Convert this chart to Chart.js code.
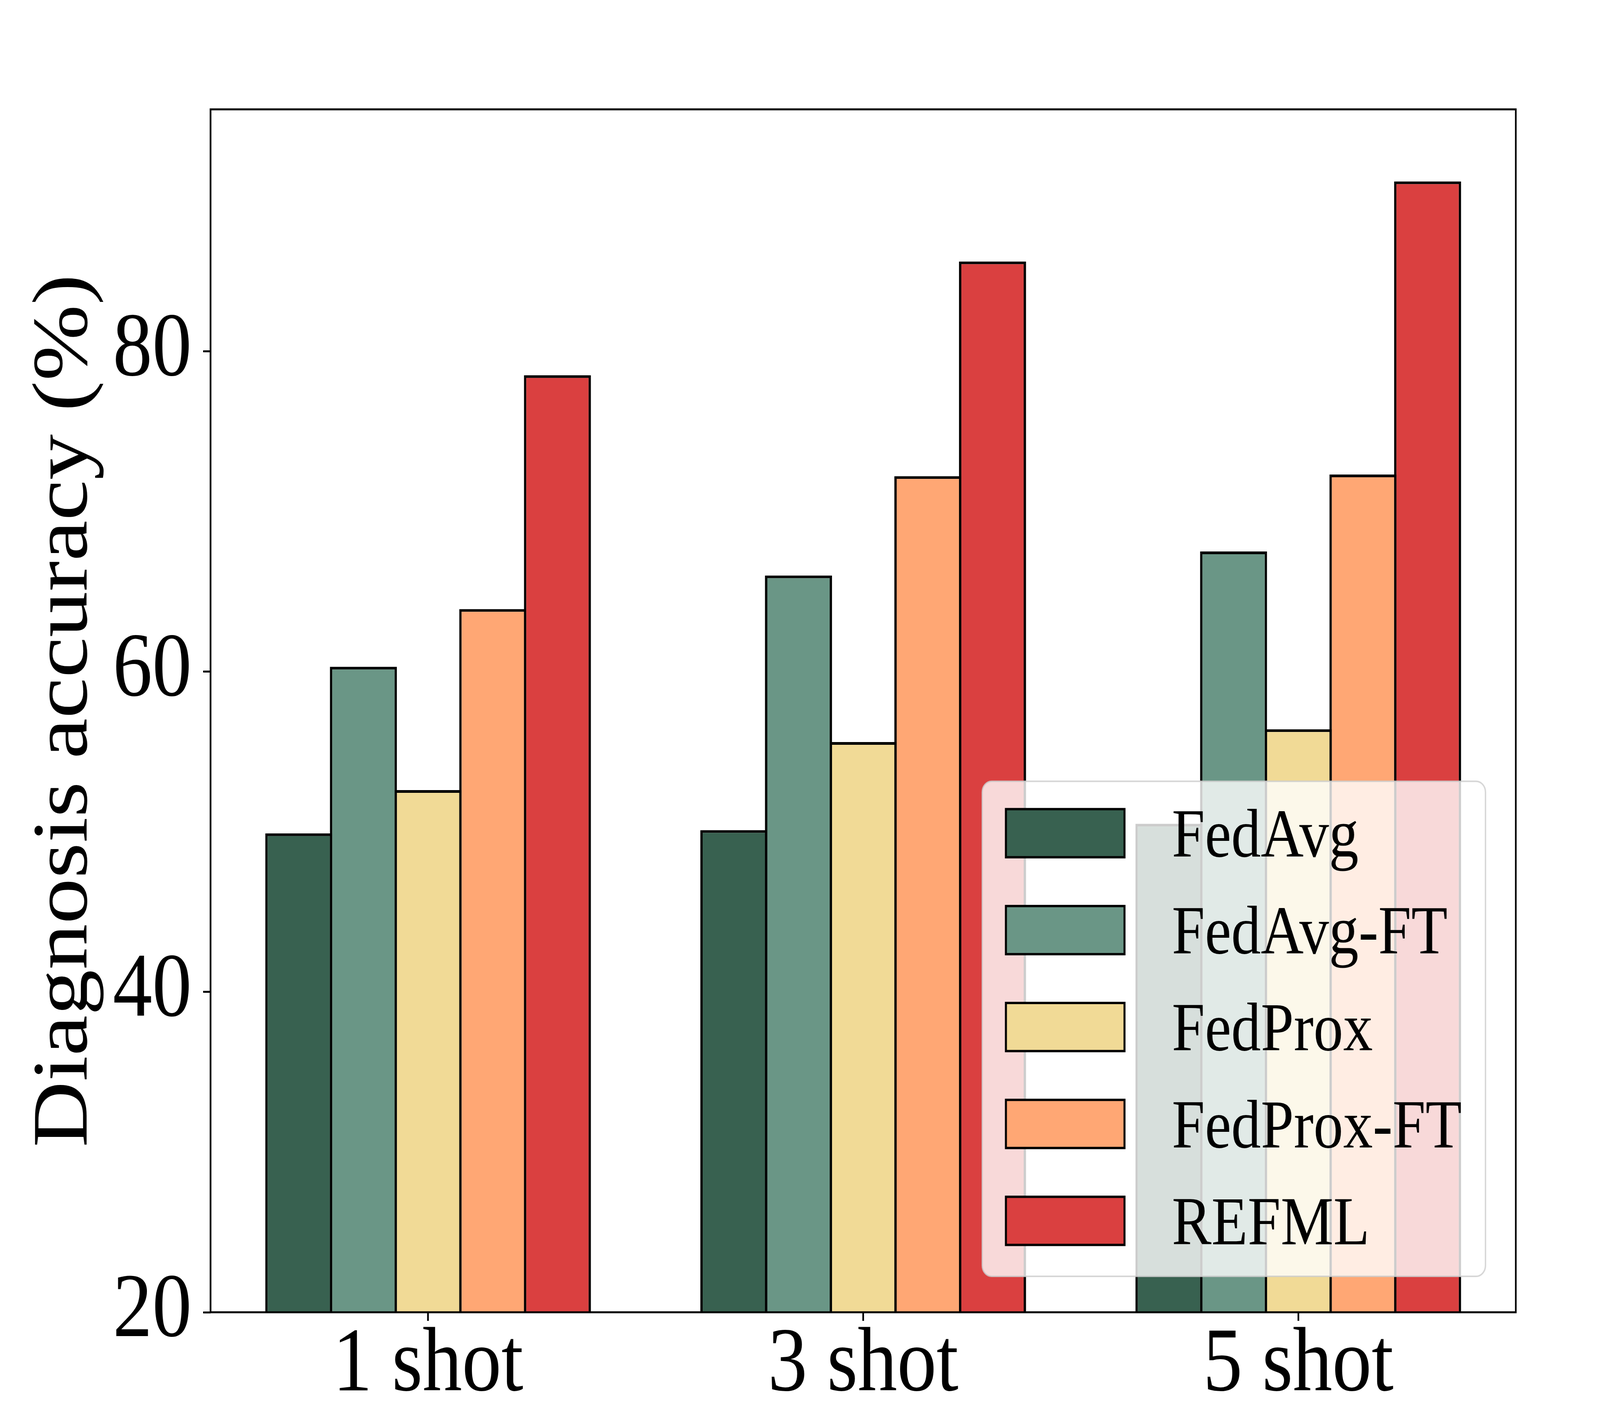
<!DOCTYPE html>
<html>
<head>
<meta charset="utf-8">
<title>Diagnosis accuracy</title>
<script src="https://cdn.jsdelivr.net/npm/chart.js@4.4.1/dist/chart.umd.min.js"></script>
<style>
  html, body { margin: 0; padding: 0; background: #fff; overflow: hidden; }
</style>
</head>
<body>
<!-- drawn at 4750x3600, shown at whatever the window gives -->
<canvas id="accchart" width="4750" height="3600" style="display:block;width:100vw;height:100vh"></canvas>
<script>
// values
const shot_labels = ["1 shot", "3 shot", "5 shot"];
const method_names = ["FedAvg", "FedAvg-FT", "FedProx", "FedProx-FT", "REFML"];
const fedavg_acc = [49.9, 50.1, 50.5];
const fedavg_ft_acc = [60.3, 66.0, 67.5];
const fedprox_acc = [52.6, 55.6, 56.4];
const fedprox_ft_acc = [63.9, 72.2, 72.3];
const refml_acc = [78.5, 85.6, 90.6];
const y_ticks = [20, 40, 60, 80];
const bar_colors = ["#386150", "#6A9686", "#F1DA96", "#FFA774", "#DA4040"];

const series_list = [fedavg_acc, fedavg_ft_acc, fedprox_acc, fedprox_ft_acc, refml_acc];
const serif = "'Liberation Serif', 'Times New Roman', serif";

//frame round the plot + matplotlib style legend (lower right)
const boxlegend = {
    id: "boxlegend",
    afterDatasetsDraw(chart) {
        const ctx = chart.ctx;
        const area = chart.chartArea;
        ctx.save();
        ctx.strokeStyle = "#000";
        ctx.lineWidth = 5;
        ctx.strokeRect(area.left, area.top, area.right - area.left, area.bottom - area.top);

        const fs = 176;
        ctx.font = fs + "px " + serif;
        const pad = 0.4 * fs, handlew = 2 * fs, handleh = 0.7 * fs, textpad = 0.8 * fs, rowh = 1.41 * fs;
        const sets = chart.data.datasets;
        const textw = Math.max(...sets.map(d => ctx.measureText(d.label).width));
        const boxw = pad * 2 + handlew + textpad + textw;
        const boxh = 0.755 * fs + (sets.length - 1) * rowh + 0.807 * fs;
        const boxr = area.right - 90, boxb = area.bottom - 92;
        const boxl = boxr - boxw, boxt = boxb - boxh;

        ctx.beginPath();
        ctx.roundRect(boxl, boxt, boxw, boxh, 28);
        ctx.fillStyle = "rgba(255,255,255,0.8)";
        ctx.fill();
        ctx.lineWidth = 4;
        ctx.strokeStyle = "rgba(204,204,204,0.8)";
        ctx.stroke();

        sets.forEach((d, i) => {
            const cy = boxt + 0.755 * fs + i * rowh;
            ctx.fillStyle = d.backgroundColor;
            ctx.fillRect(boxl + pad, cy - handleh / 2, handlew, handleh);
            ctx.lineWidth = 6;
            ctx.strokeStyle = "#000";
            ctx.strokeRect(boxl + pad, cy - handleh / 2, handlew, handleh);
            ctx.fillStyle = "#000";
            ctx.textAlign = "left";
            ctx.textBaseline = "alphabetic";
            ctx.fillText(d.label, boxl + pad + handlew + textpad, cy + 0.34 * fs);
        });
        ctx.restore();
    }
};

const generategroupedbars = (canvasid) => {
    const ctx = document.getElementById(canvasid);
    new Chart(ctx, {
        type: "bar",
        data: {
            labels: shot_labels,
            datasets: method_names.map((name, i) => ({
                label: name,
                data: series_list[i],
                backgroundColor: bar_colors[i],
                borderColor: "#000",
                borderWidth: 7,
                borderSkipped: false,
                barPercentage: 1.036,   // overlap the borders like matplotlib edges
                categoryPercentage: 0.7432
            }))
        },
        options: {
            responsive: false,
            animation: false,
            devicePixelRatio: 1,
            layout: {
                padding: { top: 280, right: 250, bottom: 0, left: 0 }
            },
            scales: {
                x: {
                    border: { display: false },
                    grid: {
                        offset: false,
                        drawOnChartArea: false,
                        drawTicks: true,
                        tickLength: 22,
                        tickWidth: 5,
                        tickColor: "#000"
                    },
                    ticks: {
                        color: "#000",
                        padding: 0,
                        maxRotation: 0,
                        font: { family: serif, size: 234, lineHeight: 1.0 }
                    },
                    afterFit: (scale) => { scale.height = 240; }
                },
                y: {
                    min: 20,
                    max: 95.1,
                    border: { display: false },
                    grid: {
                        drawOnChartArea: false,
                        drawTicks: true,
                        tickLength: 22,
                        tickWidth: 5,
                        tickColor: "#000"
                    },
                    ticks: {
                        color: "#000",
                        padding: 34,
                        font: { family: serif, size: 234 }
                    },
                    afterBuildTicks: (axis) => { axis.ticks = y_ticks.map(v => ({ value: v })); },
                    title: {
                        display: true,
                        text: "Diagnosis accuracy (%)",
                        color: "#000",
                        padding: { top: 55, bottom: 0 },
                        font: { family: serif, size: 234 }
                    },
                    afterFit: (scale) => { scale.width = 625; }
                }
            },
            plugins: {
                legend: { display: false },
                tooltip: { enabled: false },
                title: { display: false }
            }
        },
        plugins: [boxlegend]
    });
    // keep the whole 4750x3600 drawing inside the window
    ctx.style.width = "100vw";
    ctx.style.height = "100vh";
}

generategroupedbars("accchart");
</script>
</body>
</html>
